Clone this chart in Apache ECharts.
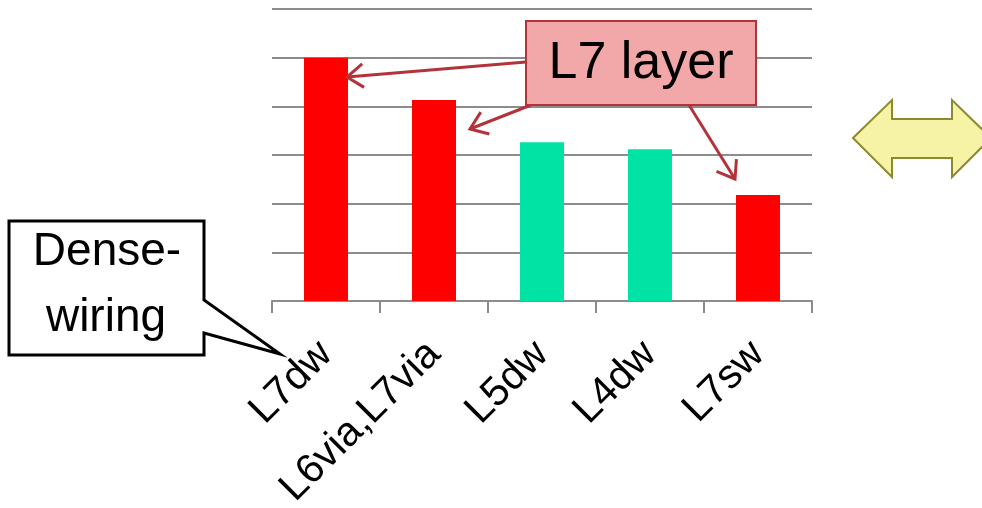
<!DOCTYPE html>
<html>
<head>
<meta charset="utf-8">
<title>Wiring layers</title>
<script src="https://cdn.jsdelivr.net/npm/echarts@6/dist/echarts.min.js"></script>
<style>
  html, body { margin: 0; padding: 0; background: #ffffff; }
  #chart { width: 982px; height: 508px; }
</style>
</head>
<body>
<div id="chart"></div>
<script>
// Wiring layers and their relative values
const categories = ['L7dw', 'L6via,L7via', 'L5dw', 'L4dw', 'L7sw'];
const values = [5.0, 4.13, 3.26, 3.12, 2.18];
const yTicks = [0, 1, 2, 3, 4, 5, 6];

const FONT = '"Liberation Sans", Arial, sans-serif';
const RED = '#ff0000';
const TEAL = '#00e3a5';
const ARROW = '#b3333a';

const chart = echarts.init(document.getElementById('chart'), null, { renderer: 'canvas' });

// Open (V-shaped) arrowhead drawn as a polyline at the tip of a line
function arrow(x1, y1, x2, y2, color) {
  const ang = Math.atan2(y2 - y1, x2 - x1);
  const len = 20, spread = Math.PI * 0.2;
  const a = [x2 - len * Math.cos(ang - spread), y2 - len * Math.sin(ang - spread)];
  const b = [x2 - len * Math.cos(ang + spread), y2 - len * Math.sin(ang + spread)];
  return [
    { type: 'line', z: 10, shape: { x1, y1, x2, y2 }, style: { stroke: color, lineWidth: 3 } },
    { type: 'polyline', z: 10, shape: { points: [a, [x2, y2], b] },
      style: { stroke: color, lineWidth: 3, fill: null, lineJoin: 'miter' } }
  ];
}

const graphics = [].concat(
  arrow(526, 62, 347, 77, ARROW),
  arrow(531, 105, 470, 129, ARROW),
  arrow(689, 105, 735, 179, ARROW),
  [
    // "L7 layer" callout box
    { type: 'rect', z: 11, shape: { x: 526, y: 21, width: 230, height: 84 },
      style: { fill: '#f2a7a8', stroke: ARROW, lineWidth: 2 } },
    { type: 'text', z: 12, x: 641, y: 64,
      style: { text: 'L7 layer', font: '52px ' + FONT, fill: '#000', align: 'center', verticalAlign: 'middle' } },
    // "Dense-wiring" speech callout
    { type: 'polygon', z: 11,
      shape: { points: [[9, 221], [204, 221], [204, 300], [280, 354], [204, 333], [204, 355], [9, 355]] },
      style: { fill: '#ffffff', stroke: '#000000', lineWidth: 3, lineJoin: 'miter' } },
    { type: 'text', z: 12, x: 107, y: 252,
      style: { text: 'Dense-', font: '46px ' + FONT, fill: '#000', align: 'center', verticalAlign: 'middle' } },
    { type: 'text', z: 12, x: 106, y: 318,
      style: { text: 'wiring', font: '46px ' + FONT, fill: '#000', align: 'center', verticalAlign: 'middle' } },
    // Double-headed comparison arrow
    { type: 'polygon', z: 11,
      shape: { points: [[853, 138], [892, 100], [892, 119], [952, 119], [952, 100], [991, 138],
                        [952, 177], [952, 158], [892, 158], [892, 177]] },
      style: { fill: '#f7f3a6', stroke: '#8b8b2e', lineWidth: 2 } }
  ]
);

chart.setOption({
  animation: false,
  backgroundColor: '#ffffff',
  grid: { left: 272, right: 170, top: 9, bottom: 207, containLabel: false, outerBoundsMode: 'none' },
  xAxis: {
    type: 'category',
    data: categories,
    boundaryGap: true,
    axisLine: { show: true, lineStyle: { color: '#8c8c8c', width: 2 } },
    axisTick: { show: true, length: 12, alignWithLabel: false, lineStyle: { color: '#8c8c8c', width: 2 } },
    axisLabel: {
      interval: 0, rotate: 45, margin: 47, color: '#000000',
      fontFamily: FONT, fontSize: 41
    }
  },
  yAxis: {
    type: 'value',
    min: yTicks[0],
    max: yTicks[yTicks.length - 1],
    interval: 1,
    axisLine: { show: false },
    axisTick: { show: false },
    axisLabel: { show: false },
    splitLine: { show: true, lineStyle: { color: '#8c8c8c', width: 2 } }
  },
  series: [{
    type: 'bar',
    barWidth: 44,
    data: values.map((v, i) => ({
      value: v,
      itemStyle: { color: categories[i].includes('L7') ? RED : TEAL }
    }))
  }],
  graphic: graphics
});
</script>
</body>
</html>
